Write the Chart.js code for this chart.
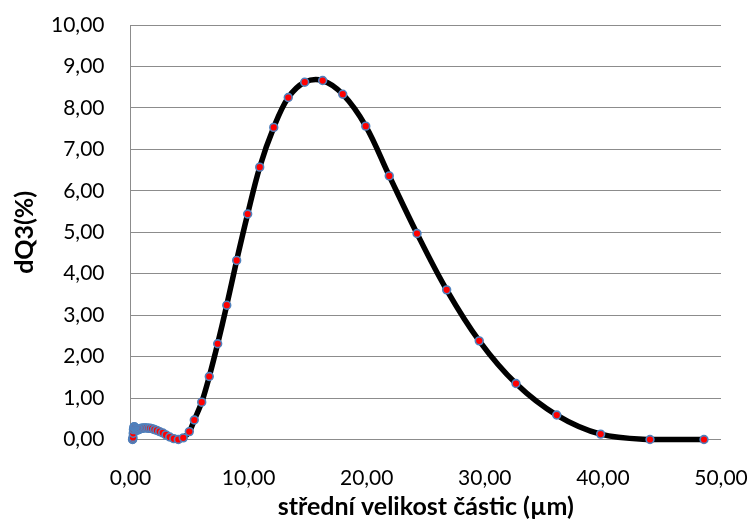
<!DOCTYPE html>
<html lang="cs">
<head>
    <meta charset="UTF-8">
    <title>dQ3 - střední velikost částic</title>
    <script src="https://cdn.jsdelivr.net/npm/chart.js"></script>
    <style>
        body {
            margin: 0;
            background: #ffffff;
        }
        #wrap {
            width: 750px;
            height: 527px;
        }
    </style>
</head>
<body>
    <div id="wrap"><canvas id="chart"></canvas></div>

    <script>
        // střední velikost částic (µm)
        const velikost = [
            0.17, 0.19, 0.21, 0.23, 0.25, 0.28, 0.31, 0.34, 0.37, 0.41,
            0.46, 0.51, 0.56, 0.62, 0.68, 0.75, 0.83, 0.92, 1.01, 1.12,
            1.24, 1.37, 1.51, 1.66, 1.84, 2.03, 2.24, 2.47, 2.73, 3.01,
            3.32, 3.67, 4.05, 4.47, 4.98, 5.40, 6.03, 6.67, 7.38, 8.15,
            8.99, 9.92, 10.94, 12.13, 13.36, 14.75, 16.27, 17.97, 19.92, 21.91,
            24.26, 26.77, 29.53, 32.64, 36.09, 39.81, 43.99, 48.56
        ];

        // dQ3 (%)
        const dQ3 = [
            0.00, 0.01, 0.05, 0.15, 0.24, 0.29, 0.31, 0.30, 0.28, 0.26,
            0.24, 0.23, 0.23, 0.23, 0.24, 0.25, 0.26, 0.27, 0.27, 0.28,
            0.28, 0.28, 0.27, 0.27, 0.26, 0.24, 0.22, 0.19, 0.16, 0.11,
            0.06, 0.02, 0.00, 0.04, 0.19, 0.47, 0.90, 1.52, 2.31, 3.24,
            4.32, 5.44, 6.57, 7.53, 8.25, 8.62, 8.66, 8.33, 7.56, 6.36,
            4.97, 3.61, 2.38, 1.35, 0.59, 0.13, 0.00, 0.00
        ];

        // popisky os
        const xTicks = [0, 10, 20, 30, 40, 50];
        const yTicks = [0, 1, 2, 3, 4, 5, 6, 7, 8, 9, 10];

        const points = velikost.map((v, i) => ({ x: v, y: dQ3[i] }));

        // formát 0,00
        const czFormat = value => Number(value).toFixed(2).replace('.', ',');

        const tickFont = { family: 'Lato', size: 21 };
        const titleFont = { family: 'Lato', size: 25, weight: 'bold' };
        const gridGray = '#8c8c8c';

        new Chart(document.getElementById('chart'), {
            type: 'scatter',
            data: {
                datasets: [{
                    data: points,
                    showLine: true,
                    borderColor: '#000000',
                    borderWidth: 5.5,
                    tension: 0.35,
                    borderCapStyle: 'round',
                    borderJoinStyle: 'round',
                    pointRadius: 3.9,
                    pointBorderWidth: 1.6,
                    pointBackgroundColor: '#ff0000',
                    pointBorderColor: '#4f81bd',
                    clip: false
                }]
            },
            options: {
                responsive: true,
                maintainAspectRatio: false,
                animation: false,
                layout: { padding: { left: 0, right: 29, top: 25, bottom: 0 } },
                plugins: {
                    legend: { display: false },
                    tooltip: { enabled: false }
                },
                scales: {
                    x: {
                        type: 'linear',
                        min: xTicks[0],
                        max: xTicks[xTicks.length - 1],
                        afterBuildTicks: scale => { scale.ticks = xTicks.map(v => ({ value: v })); },
                        afterFit: scale => { scale.height = 87.5; },
                        grid: {
                            display: true,
                            color: 'rgba(0,0,0,0)',
                            drawTicks: true,
                            tickLength: 26,
                            tickColor: 'rgba(0,0,0,0)'
                        },
                        border: { display: false },
                        ticks: {
                            color: '#000000',
                            font: tickFont,
                            padding: 0,
                            maxRotation: 0,
                            callback: czFormat
                        },
                        title: {
                            display: true,
                            text: 'střední velikost částic (µm)',
                            color: '#000000',
                            font: titleFont,
                            padding: { top: 0, bottom: 5 }
                        }
                    },
                    y: {
                        type: 'linear',
                        min: yTicks[0],
                        max: yTicks[yTicks.length - 1],
                        afterBuildTicks: scale => { scale.ticks = yTicks.map(v => ({ value: v })); },
                        afterFit: scale => { scale.width = 130.5; },
                        grid: {
                            color: gridGray,
                            lineWidth: 1,
                            drawTicks: true,
                            tickLength: 26,
                            tickColor: 'rgba(0,0,0,0)'
                        },
                        border: { display: true, color: gridGray, width: 1 },
                        ticks: {
                            color: '#000000',
                            font: tickFont,
                            padding: 0,
                            callback: czFormat
                        },
                        title: {
                            display: true,
                            text: 'dQ3(%)',
                            color: '#000000',
                            font: titleFont,
                            padding: { top: 10, bottom: 0 }
                        }
                    }
                }
            }
        });
    </script>
</body>
</html>
